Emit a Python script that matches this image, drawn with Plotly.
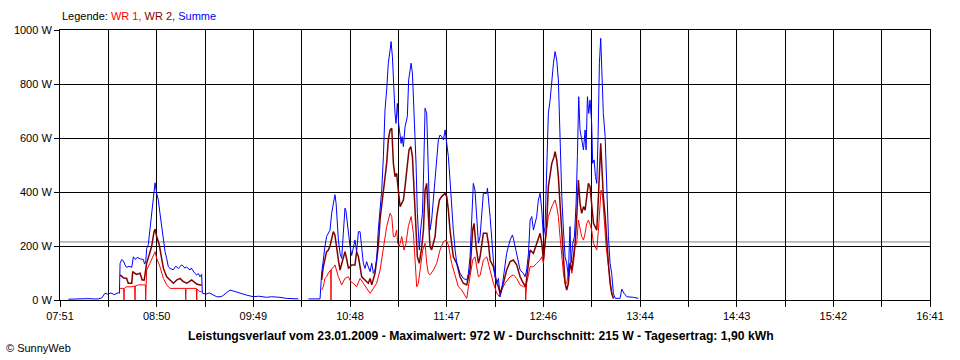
import plotly.graph_objects as go

# ---- data (time in minutes after midnight, power in W) ----
sum_t = [476.1, 480, 484, 488, 492, 494.4, 496.5, 498.4, 500, 502, 504, 506.5, 507.2, 507.6, 508.6, 509.6,
         510.6, 511.6, 513, 514.7, 515.7, 517, 518, 520, 521.8, 522.5, 523.2, 523.8, 524.8, 525.8, 526.8,
         528.3, 528.9, 529.9, 530.9, 531.9, 532.9, 534.0, 535.0, 536.0, 537.0, 538.0, 540, 541.5, 543.1,
         544.1, 545, 546.1, 547, 548.2, 550.2, 551, 552.2, 553, 554.3, 555.3, 556.3, 557.3, 557.7, 560,
         562, 564, 566.5, 568.5, 570, 574.6, 576.6, 578, 580.7, 584.7, 588.8, 592, 596.9, 600, 605.0,
         609.1, 616.2, None,
         622.3, 629.4, 630.4, 631.4, 632.4, 633.4, 634.5,
         635.5, 636.5, 637.9, 638.5, 639.2, 640.0, 640.6, 641.6, 642.6, 643.6, 644.6, 645.2, 646.7, 647.7,
         648.7, 649.7, 650.7, 651.7, 652.8, 653.8, 654.8, 655.8, 656.8, 657.8, 658.8, 659.9, 660.9, 661.9,
         662.9, 663.9, 664.9, 666.0, 667.0, 668.0, 669.0, 670.0, 671.0, 672.1, 672.7, 673.5, 674.1, 675.1,
         675.7, 676.5, 677.3, 678.2, 678.8, 679.4, 680.2, 681.2, 682.6, 683.4, 684.2, 684.9, 685.7, 686.3,
         686.9, 687.9, 688.7, 689.3, 689.9, 690.7, 691.8, 692.4, 693.4, 694.4, 695.0, 695.8, 696.4, 697.4,
         698.5, 700.1, 701.5, 702.5, 703.5, 704.6, 705.6, 706.6, 707.6, 708.6, 709.6, 710.6, 711.7, 712.7,
         714.7, 716.7, 718.8, 719.8, 720.8, 721.8, 722.8, 723.8, 724.9, 725.9, 726.9, 728.5, 728.9, 731.0,
         731.4, 733.0, 734.0, 735.0, 736.0, 737.1, 738.1, 739.1, 740.1, 741.1, 742.1, 743.1, 745.2, 746.6,
         747.2, 748.2, 749.2, 751.3, 753.3, 754.3, 755.3, 756.4, 757.4, 758.4, 759.4, 760.4, 761.4, 762.4,
         763.5, 764.5, 765.5, 766.5, 767.5, 768.5, 769.6, 770.6, 771.6, 772.6, 773.6, 774.6, 775.2, 775.6,
         776.7, 777.7, 778.7, 779.7, 780.7, 781.3, 781.7, 782.3, 783.4, 784.4, 785.4, 786.2, 787.0, 787.8,
         788.8, 789.9, 790.9, 791.5, 792.3, 793.1, 793.9, 794.9, 795.5, 796.4, 797.2, 798.0, 798.8, 799.6,
         800.4, 801.2, 802.0, 803.1, 804.1, 805.1, 806.1, 807.1, 808.1, 809.2, 812.2, 813.2, 814.6, 816.3,
         820.3, 823.4]
sum_w = [3, 4, 3, 5, 4, 4, 8, 25, 22, 26, 20, 27, 25, 136, 150, 145,
         130, 121, 125, 121, 160, 150, 158, 152, 150, 133, 140, 190, 205, 260, 330,
         420, 434, 395, 370, 321, 272, 222, 179, 154, 123, 117, 112, 125, 117,
         123, 130, 126, 118, 122, 111, 118, 105, 100, 93, 98, 86, 95, 25, 22,
         26, 20, 12, 12, 15, 37, 33, 30, 25, 18, 12, 14, 10, 12, 10,
         6, 4, None,
         4, 4, 99, 160, 198, 235, 247,
         259, 321, 383, 390, 358, 259, 222, 173, 154, 247, 340, 330, 247, 198,
         165, 198, 222, 179, 253, 253, 179, 136, 117, 142, 123, 105, 136, 99,
         111, 148, 259, 346, 407, 531, 704, 778, 877, 926, 957, 901, 802, 691,
         654, 728, 654, 593, 580, 605, 568, 642, 679, 815, 858, 877, 840, 753,
         654, 506, 321, 235, 185, 259, 321, 444, 710, 691, 568, 358, 259, 296,
         383, 506, 593, 611, 605, 593, 630, 580, 531, 444, 333, 259, 185, 136,
         99, 80, 74, 99, 160, 309, 432, 407, 284, 210, 235, 383, 395, 395,
         414, 309, 210, 148, 86, 62, 80, 12, 37, 86, 136, 173, 222, 241,
         228, 198, 160, 111, 99, 86, 111, 173, 296, 309, 259, 284, 309, 370,
         395, 333, 235, 272, 469, 691, 741, 815, 877, 920, 889, 815, 691, 568,
         383, 259, 160, 136, 86, 210, 272, 136, 210, 235, 358, 531, 753, 630,
         593, 556, 630, 556, 753, 691, 741, 654, 506, 519, 457, 432, 605, 877,
         969, 840, 691, 605, 383, 235, 136, 99, 25, 6, 6, 40, 25, 12,
         10, 6]

wr2_t = [507.6, 509.6, 511.6, 512.6, 514.7, 515.3, 517.5, 519.8, 521.0, 522.3, 523.8, 525.3, 526.8, 528.3,
         528.9, 529.9, 531.5, 532.9, 534.0, 536.0, 538.0, 540.1, 542.1, 544.1, 546.1, 548.2, 551.2, 554.3,
         556.3, 557.3, None,
         630.4, 631.4, 633.4, 634.5, 635.5, 637.5, 638.5, 639.6, 640.6, 641.6, 643.6, 644.6, 645.7, 646.7,
         648.7, 650.7, 651.7, 652.8, 654.8, 656.8, 658.8, 659.9, 660.9, 662.9, 664.9, 666.0, 667.6, 668.6,
         670.0, 671.0, 672.1, 673.1, 674.1, 675.1, 676.1, 677.1, 678.2, 679.2, 680.2, 681.2, 682.6, 683.6,
         684.7, 685.7, 686.7, 687.9, 688.7, 689.9, 691.4, 692.4, 693.4, 694.4, 695.4, 696.4, 697.4, 698.5,
         699.5, 700.5, 702.1, 703.5, 705.6, 706.6, 707.6, 708.6, 709.6, 710.6, 712.7, 714.7, 716.7, 718.8,
         720.8, 722.4, 723.2, 724.5, 725.9, 726.9, 728.9, 731.0, 732.0, 733.0, 735.0, 737.1, 738.1, 739.1,
         741.1, 743.1, 745.2, 747.2, 749.2, 751.3, 753.3, 754.7, 756.4, 757.4, 759.4, 761.4, 763.5, 764.5,
         765.5, 766.5, 767.5, 768.5, 769.6, 770.6, 772.0, 772.6, 773.6, 774.6, 775.6, 776.7, 777.7, 778.7,
         779.7, 780.7, 781.7, 782.8, 783.8, 784.8, 785.8, 786.8, 787.8, 788.8, 789.9, 790.9, 791.9, 792.9,
         793.9, 794.9, 796.0, 797.0, 798.0, 799.0, 799.6, 800.4, 801.2, 802.0, 803.1, 804.1, 805.1, 806.1,
         807.1, 808.1]
wr2_w = [93, 82, 80, 62, 62, 105, 95, 99, 74, 74, 136, 170, 198, 253,
         262, 235, 204, 154, 117, 86, 74, 62, 74, 80, 68, 62, 74, 59,
         56, 56, None,
         74, 123, 179, 185, 200, 253, 240, 179, 148, 111, 160, 179, 150, 117,
         130, 130, 179, 160, 86, 74, 62, 80, 56, 99, 198, 300, 383, 457,
         506, 593, 630, 636, 506, 457, 469, 407, 346, 358, 370, 420, 506, 556,
         568, 531, 407, 259, 160, 136, 198, 259, 407, 432, 309, 198, 185, 210,
         235, 309, 370, 383, 395, 383, 333, 259, 198, 160, 136, 86, 62, 56,
         111, 259, 284, 198, 136, 160, 247, 247, 210, 148, 123, 62, 49, 25,
         62, 111, 142, 148, 130, 86, 62, 49, 136, 185, 173, 210, 247, 210,
         148, 210, 284, 420, 469, 506, 531, 549, 519, 457, 358, 235, 136, 62,
         37, 62, 136, 111, 160, 210, 309, 444, 358, 321, 346, 333, 383, 432,
         420, 358, 284, 272, 259, 383, 506, 580, 481, 383, 309, 198, 136, 62,
         25, 6]

wr1_t = [507.6, 509.8, 510.0, 510.2, 511.6, 514.7, 516.5, 516.7, 516.9, 518.8, 523.0, 523.2, 523.4, 523.8,
         525.8, 527.8, 528.9, 529.9, 531.9, 534.0, 536.0, 538.0, 547.4, 547.6, 547.8, 554.1, 554.3, 554.5,
         556.3, 557.3, None,
         630.4, 631.4, 632.4, 633.4, 634.5, 635.5, 635.9, 636.1, 636.3, 637.5, 638.5, 640.6, 642.6, 644.6,
         646.7, 648.1, 649.7, 651.7, 653.8, 655.8, 657.8, 659.9, 661.9, 663.9, 666.0, 668.0, 670.0, 672.1,
         673.1, 674.1, 675.1, 676.1, 676.7, 677.7, 679.2, 680.6, 681.8, 683.2, 684.9, 686.3, 687.3, 688.3,
         689.3, 690.3, 692.0, 693.4, 694.4, 695.4, 696.4, 698.5, 700.5, 702.5, 704.6, 706.2, 707.6, 709.6,
         711.7, 713.7, 715.7, 717.8, 718.8, 719.8, 720.8, 722.4, 723.8, 724.9, 725.9, 726.9, 728.9, 731.0,
         732.0, 733.0, 735.0, 737.1, 738.7, 740.1, 742.1, 745.2, 747.2, 749.2, 751.3, 753.3, 754.5, 754.7,
         754.9, 755.3, 757.4, 759.4, 761.4, 763.5, 764.5, 765.5, 766.5, 767.5, 768.5, 770.6, 772.6, 773.6,
         774.6, 775.6, 776.7, 777.7, 778.7, 779.7, 780.7, 781.7, 782.8, 783.8, 784.8, 785.8, 786.8, 787.8,
         788.8, 789.9, 790.9, 791.9, 792.9, 793.9, 794.9, 796.0, 797.0, 798.0, 799.0, 800.0, 800.6, 801.6,
         802.5, 803.7, 805.1, 806.1, 807.1, 808.1]
wr1_w = [43, 43, 0, 43, 49, 49, 52, 0, 52, 56, 56, 0, 60, 111,
         136, 167, 179, 154, 123, 80, 56, 43, 43, 0, 43, 43, 0, 40,
         31, 31, None,
         37, 49, 80, 86, 100, 111, 111, 0, 115, 120, 130, 86, 56, 80,
         86, 68, 62, 49, 80, 62, 43, 25, 43, 62, 111, 198, 272, 321,
         309, 235, 235, 259, 210, 198, 235, 185, 210, 272, 309, 247, 136, 49,
         62, 111, 185, 210, 136, 99, 93, 111, 136, 185, 216, 222, 204, 136,
         86, 49, 37, 12, 6, 49, 86, 148, 160, 123, 86, 90, 148, 160,
         136, 111, 62, 25, 12, 37, 62, 86, 93, 80, 56, 49, 49, 0,
         55, 62, 123, 123, 136, 148, 160, 136, 210, 259, 309, 346, 370, 346,
         309, 235, 160, 99, 62, 62, 99, 136, 99, 136, 198, 210, 296, 259,
         235, 222, 247, 284, 296, 280, 259, 210, 198, 185, 259, 383, 407, 383,
         309, 198, 123, 62, 25, 6]

x_start = 471   # 07:51
x_end = 1001    # 16:41
tick_labels = ["07:51", "08:50", "09:49", "10:48", "11:47", "12:46", "13:44", "14:43", "15:42", "16:41"]
y_ticks = [0, 200, 400, 600, 800, 1000]
y_tick_labels = ["0 W", "200 W", "400 W", "600 W", "800 W", "1000 W"]
average_w = 215
title_text = ("Leistungsverlauf vom 23.01.2009 - Maximalwert: 972 W - "
              "Durchschnitt: 215 W - Tagesertrag: 1,90 kWh")

# ---- figure ----
n_major = len(tick_labels) - 1
step = (x_end - x_start) / n_major
major_vals = [x_start + i * step for i in range(n_major + 1)]
minor_vals = [x_start + (i + 0.5) * step for i in range(n_major)]

FONT = "Liberation Sans, Arial, sans-serif"

fig = go.Figure()
fig.add_trace(go.Scatter(x=wr1_t, y=wr1_w, mode="lines", name="WR 1",
                         line=dict(color="#FF0000", width=1)))
fig.add_trace(go.Scatter(x=wr2_t, y=wr2_w, mode="lines", name="WR 2",
                         line=dict(color="#800000", width=1.5)))
fig.add_trace(go.Scatter(x=sum_t, y=sum_w, mode="lines", name="Summe",
                         line=dict(color="#0000FF", width=1)))

fig.add_shape(type="line", xref="paper", x0=0, x1=1, yref="y", y0=average_w, y1=average_w,
              line=dict(color="#808080", width=1), layer="between")

fig.update_layout(
    width=960, height=360,
    margin=dict(l=60, r=30, t=30, b=60),
    paper_bgcolor="white", plot_bgcolor="white",
    showlegend=False,
    font=dict(family=FONT, size=11, color="black"),
    xaxis=dict(range=[x_start, x_end], tickmode="array", tickvals=major_vals, ticktext=tick_labels,
               showgrid=True, gridcolor="black", gridwidth=1,
               ticks="outside", ticklen=6, tickcolor="black", tickwidth=1,
               minor=dict(tickmode="array", tickvals=minor_vals, showgrid=True, gridcolor="black",
                          gridwidth=1, ticks="outside", ticklen=6, tickcolor="black", tickwidth=1),
               showline=True, linecolor="black", linewidth=1, mirror=True, zeroline=False,
               fixedrange=True),
    yaxis=dict(range=[0, 1000], tickmode="array", tickvals=y_ticks, ticktext=y_tick_labels,
               showgrid=True, gridcolor="black", gridwidth=1,
               ticks="outside", ticklen=5, tickcolor="black", tickwidth=1,
               showline=True, linecolor="black", linewidth=1, mirror=True, zeroline=False,
               fixedrange=True),
)

fig.add_annotation(xref="paper", yref="paper", x=0, y=(300 - 16) / 270, xanchor="left", yanchor="middle",
                   showarrow=False, font=dict(family=FONT, size=11),
                   text="Legende: <span style='color:#FF0000'>WR 1,</span> "
                        "<span style='color:#800000'>WR 2,</span> "
                        "<span style='color:#0000FF'>Summe</span>")
fig.add_annotation(xref="paper", yref="paper", x=(480.5 - 60) / 870, y=(300 - 336) / 270,
                   xanchor="center", yanchor="middle", showarrow=False,
                   font=dict(family=FONT, size=12.2), text="<b>" + title_text + "</b>")
fig.add_annotation(xref="paper", yref="paper", x=(4 - 60) / 870, y=(300 - 348) / 270,
                   xanchor="left", yanchor="middle", showarrow=False,
                   font=dict(family=FONT, size=11), text="© SunnyWeb")

fig.write_html("out.html", config={"displayModeBar": False},
               post_script="document.body.style.margin='0';document.body.style.overflow='hidden';")
